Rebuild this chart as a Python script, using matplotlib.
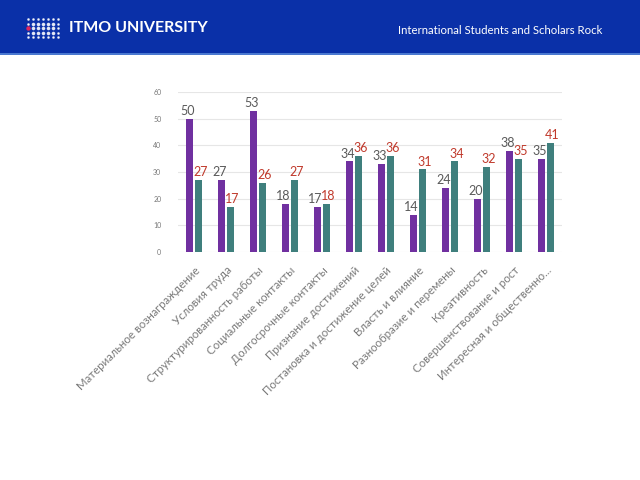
import matplotlib
matplotlib.use("Agg")
import matplotlib.pyplot as plt
from matplotlib.patches import Rectangle
import numpy as np

categories = [
    "Материальное вознаграждение",
    "Условия труда",
    "Структурированность работы",
    "Социальные контакты",
    "Долгосрочные контакты",
    "Признание достижений",
    "Постановка и достижение целей",
    "Власть и влияние",
    "Разнообразие и перемены",
    "Креативность",
    "Совершенствование и рост",
    "Интересная и общественно...",
]
series_a = [50, 27, 53, 18, 17, 34, 33, 14, 24, 20, 38, 35]
series_b = [27, 17, 26, 27, 18, 36, 36, 31, 34, 32, 35, 41]
yticks = [0, 10, 20, 30, 40, 50, 60]

plt.rcParams['font.family'] = ['Lato', 'DejaVu Sans']

fig = plt.figure(figsize=(6.4, 4.8), dpi=100)
fig.patch.set_facecolor("white")

# header band
fig.patches.append(Rectangle((0, 1 - 53/480), 1, 53/480, transform=fig.transFigure,
                             facecolor="#0a30a8", edgecolor="none", zorder=0))
fig.patches.append(Rectangle((0, 1 - 55/480), 1, 2/480, transform=fig.transFigure,
                             facecolor="#4a78d0", edgecolor="none", zorder=0))
# logo dots
for i in range(7):
    for j in range(5):
        x = (28 + i * 5.0) / 640
        y = 1 - (19 + j * 4.5) / 480
        s = 1.6 if (1 <= j <= 3 and 1 <= i <= 5) else 0.9
        fig.add_artist(plt.Line2D([x], [y], marker="o", markersize=s, color="white",
                                  linestyle="none", transform=fig.transFigure, alpha=0.8))
fig.add_artist(plt.Line2D([28/640], [1 - 28/480], marker="o", markersize=2.2, color="#e0245e",
                          linestyle="none", transform=fig.transFigure))
fig.text(69/640, 1 - 28/480, "ITMO UNIVERSITY", color="white", fontsize=11.5,
         fontweight="bold", va="center", ha="left")
fig.text(602/640, 1 - 31/480, "International Students and Scholars Rock", color="white",
         fontsize=8.2, va="center", ha="right")

ax = fig.add_axes([178/640, 1 - 252/480, 384/640, 160/480])
x = np.arange(len(categories))
w = 0.22
ax.bar(x - 0.14, series_a, width=w, color="#7030a0", zorder=3)
ax.bar(x + 0.14, series_b, width=w, color="#3f7f7d", zorder=3)

for xi, a, b in zip(x, series_a, series_b):
    ax.text(xi - 0.2, a + 0.6, str(a), ha="center", va="bottom", fontsize=9, color="#595959", zorder=4)
    ax.text(xi + 0.2, b + 0.6, str(b), ha="center", va="bottom", fontsize=9, color="#c0392b", zorder=4)

ax.set_xlim(-0.5, len(categories) - 0.5)
ax.set_ylim(0, 60)
ax.set_yticks(yticks)
ax.set_yticklabels([str(t) for t in yticks], fontsize=5, color="#777777")
ax.set_xticks(x)
ax.set_xticklabels(categories, rotation=45, ha="right", rotation_mode="anchor",
                   fontsize=8.3, color="#7a7a7a")
ax.tick_params(axis="x", length=0, pad=9)
ax.tick_params(axis="y", length=0, pad=12)
ax.grid(axis="y", color="#e6e6e6", linewidth=0.8, zorder=0)
for s in ax.spines.values():
    s.set_visible(False)

fig.savefig("out.png", dpi=100)
